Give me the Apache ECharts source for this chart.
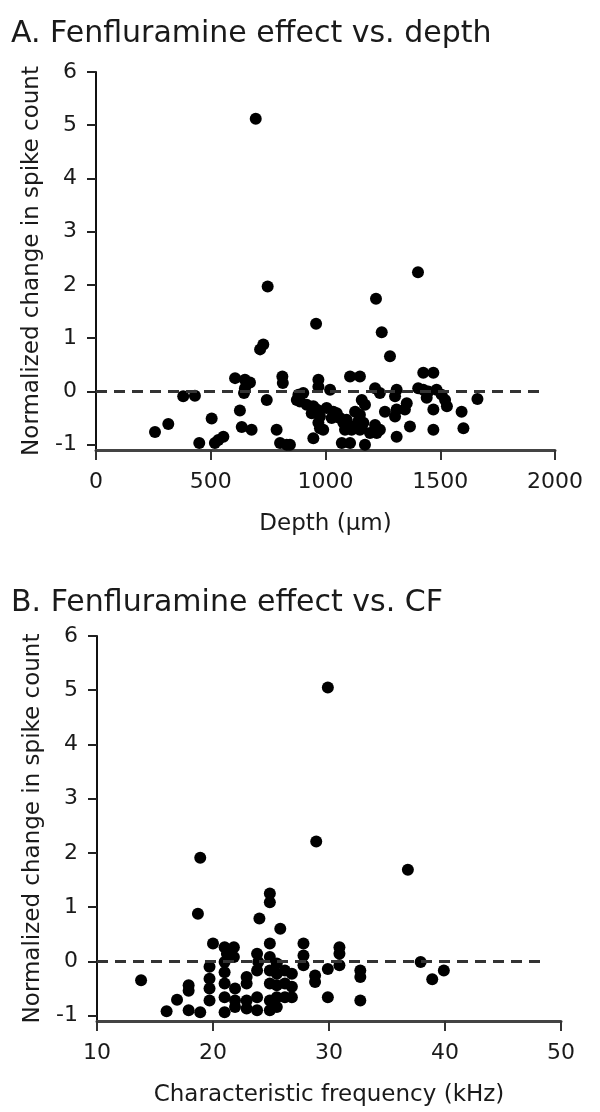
<!DOCTYPE html>
<html>
<head>
<meta charset="utf-8">
<script src="https://cdn.jsdelivr.net/npm/echarts@6/dist/echarts.min.js"></script>
<style>
  html, body { margin: 0; padding: 0; background: #fff; }
  #chart { width: 600px; height: 1112px; }
</style>
</head>
<body>
<div id="chart"></div>
<script>
// panel A: depth (µm) vs normalized change
const depthA = [696, 748, 1403, 1220, 959, 1245, 729, 715, 1281, 606, 649, 671, 649, 645, 812, 814,
  380, 431, 744, 627, 504, 315, 257, 635, 678, 787, 450, 518, 533, 555, 802, 831,
  969, 969, 1020, 1107, 1150, 1216, 1237, 1310, 1303, 1404, 1426, 1448, 1426, 1470, 1484, 1506,
  1441, 1521, 1529, 1470, 1593, 1662, 1601, 1470, 1368, 1310, 1354, 1346, 1259, 1303, 1310,
  1158, 1172, 1216, 1237, 882, 903, 889, 875, 918, 947, 940, 962, 976, 969, 990, 976,
  1005, 1034, 1027, 1049, 1063, 1078, 1092, 1114, 1129, 1150, 1143, 1165, 1158,
  1085, 1114, 1150, 1071, 1107, 1172, 947, 1194, 1223, 845]
const changeA = [5.12, 1.97, 2.24, 1.74, 1.27, 1.11, 0.88, 0.79, 0.66, 0.25, 0.22, 0.17, 0.06, -0.03, 0.28, 0.16,
  -0.09, -0.08, -0.16, -0.36, -0.51, -0.61, -0.76, -0.67, -0.72, -0.72, -0.97, -0.97, -0.91, -0.85, -0.97, -1.0,
  0.22, 0.09, 0.03, 0.28, 0.28, 0.06, -0.03, 0.03, -0.09, 0.06, 0.03, 0.0, 0.35, 0.35, 0.03, -0.06,
  -0.12, -0.16, -0.28, -0.34, -0.38, -0.14, -0.69, -0.72, -0.66, -0.85, -0.22, -0.34, -0.38, -0.47, -0.34,
  -0.16, -0.25, -0.63, -0.72, -0.06, -0.03, -0.19, -0.16, -0.25, -0.28, -0.41, -0.34, -0.47, -0.59, -0.72, -0.69,
  -0.31, -0.38, -0.5, -0.41, -0.5, -0.59, -0.53, -0.66, -0.38, -0.44, -0.56, -0.59, -0.69,
  -0.72, -0.72, -0.72, -0.97, -0.97, -1.0, -0.88, -0.78, -0.78, -1.0]

// panel B: characteristic frequency (kHz) vs normalized change
const cfB = [29.9, 28.9, 18.9, 36.8, 24.9, 24.9, 18.7, 24.0, 25.8, 13.8, 16.0, 16.9, 17.9, 17.9, 17.9, 18.9,
  19.7, 19.7, 19.7, 19.7, 20.0, 21.0, 21.8, 21.2, 21.8, 21.0, 21.0, 21.0, 21.0, 21.0, 21.9, 21.9, 21.9,
  22.9, 22.9, 22.9, 22.9, 23.8, 23.9, 23.8, 23.8, 23.8, 24.9, 24.9, 24.9, 24.9, 24.9, 24.9,
  25.5, 25.5, 25.5, 25.5, 25.5, 26.2, 26.2, 26.2, 26.8, 26.8, 26.8, 27.8, 27.8, 27.8, 28.8, 28.8,
  29.9, 29.9, 30.9, 30.9, 30.9, 32.7, 32.7, 32.7, 37.9, 38.9, 39.9]
const changeB = [5.05, 2.21, 1.91, 1.69, 1.25, 1.09, 0.88, 0.79, 0.6, -0.35, -0.92, -0.71, -0.44, -0.54, -0.9, -0.94,
  -0.1, -0.32, -0.5, -0.72, 0.33, 0.26, 0.26, 0.14, 0.08, -0.01, -0.2, -0.41, -0.66, -0.94, -0.5, -0.72, -0.84,
  -0.29, -0.41, -0.72, -0.87, 0.14, -0.01, -0.17, -0.66, -0.9, 0.33, 0.08, -0.17, -0.41, -0.72, -0.9,
  -0.04, -0.23, -0.44, -0.66, -0.84, -0.17, -0.41, -0.66, -0.23, -0.47, -0.66, 0.33, 0.11, -0.07, -0.26, -0.38,
  -0.14, -0.66, 0.26, 0.14, -0.07, -0.17, -0.29, -0.72, -0.01, -0.33, -0.17]

const yTicks = [-1, 0, 1, 2, 3, 4, 5, 6]
const depthTicks = [0, 500, 1000, 1500, 2000]
const cfTicks = [10, 20, 30, 40, 50]

const font = 'DejaVu Sans'
const ink = '#1a1a1a'

function xAxisFor(gridIndex, min, max, ticks, name) {
  return {
    gridIndex: gridIndex,
    type: 'value',
    min: min,
    max: max,
    name: name,
    nameLocation: 'middle',
    nameGap: 63,
    nameTextStyle: { fontFamily: font, fontSize: 23, color: ink },
    axisLine: { onZero: false, lineStyle: { color: '#444', width: 3 } },
    axisTick: { show: true, length: 10, customValues: ticks, lineStyle: { color: '#333', width: 2 } },
    axisLabel: {
      customValues: ticks, margin: 21, fontFamily: font, fontSize: 22, color: ink,
      formatter: v => String(v)
    },
    splitLine: { show: false }
  }
}

function yAxisFor(gridIndex) {
  return {
    gridIndex: gridIndex,
    type: 'value',
    min: -1.1,
    max: 6,
    name: 'Normalized change in spike count',
    nameLocation: 'middle',
    nameGap: 52,
    nameTextStyle: { fontFamily: font, fontSize: 23, color: ink },
    axisLine: { show: true, onZero: false, lineStyle: { color: '#111', width: 2 } },
    axisTick: { show: true, length: 9, customValues: yTicks, lineStyle: { color: '#222', width: 2 } },
    axisLabel: { customValues: yTicks, margin: 19, fontFamily: font, fontSize: 22, color: ink },
    splitLine: { show: false }
  }
}

function scatterFor(idx, xs, ys, lineStart, lineEnd) {
  return {
    type: 'scatter',
    xAxisIndex: idx,
    yAxisIndex: idx,
    symbol: 'circle',
    symbolSize: 12,
    itemStyle: { color: '#000', opacity: 1 },
    data: xs.map((x, i) => [x, ys[i]]),
    markLine: {
      silent: true,
      symbol: ['none', 'none'],
      label: { show: false },
      lineStyle: { color: '#333', width: 3, type: [11, 7] },
      data: [[{ coord: [lineStart, 0] }, { coord: [lineEnd, 0] }]]
    }
  }
}

const chart = echarts.init(document.getElementById('chart'))
chart.setOption({
  backgroundColor: '#ffffff',
  animation: false,
  title: [
    { text: 'A. Fenfluramine effect vs. depth', left: 6, top: 14,
      textStyle: { fontFamily: font, fontSize: 30, fontWeight: 'normal', color: ink } },
    { text: 'B. Fenfluramine effect vs. CF', left: 6, top: 583,
      textStyle: { fontFamily: font, fontSize: 30, fontWeight: 'normal', color: ink } }
  ],
  grid: [
    { left: 96, top: 72, width: 459, height: 378 },
    { left: 97, top: 636, width: 464, height: 385 }
  ],
  xAxis: [
    xAxisFor(0, 0, 2000, depthTicks, 'Depth (μm)'),
    xAxisFor(1, 10, 50, cfTicks, 'Characteristic frequency (kHz)')
  ],
  yAxis: [yAxisFor(0), yAxisFor(1)],
  series: [
    scatterFor(0, depthA, changeA, 0, 1950),
    scatterFor(1, cfB, changeB, 10, 48.4)
  ]
})
</script>
</body>
</html>
